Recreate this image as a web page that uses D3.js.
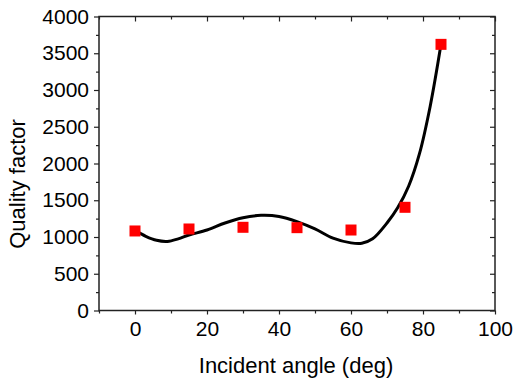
<!DOCTYPE html>
<html>
<head>
<meta charset="utf-8">
<script src="https://cdn.jsdelivr.net/npm/d3@7"></script>
<style>
  html, body { margin: 0; padding: 0; background: #fff; }
  svg { display: block; font-family: "Liberation Sans", Arial, sans-serif; }
</style>
</head>
<body>
<svg id="chart" width="515" height="385"></svg>
<script>
// Measured quality factor at each incident angle
const angles = [0, 15, 30, 45, 60, 75, 85];
const qualityFactor = [1082, 1109, 1132, 1127, 1095, 1404, 3621];

// Smooth guide curve through the measurements
const fitAngles = [0, 3, 6, 9, 12, 15, 20, 25, 30, 35, 40, 45, 50, 55, 60, 63, 66, 70, 73, 76, 79, 82, 85];
const fitValues = [1090, 1010, 955, 940, 975, 1027, 1095, 1190, 1262, 1295, 1280, 1210, 1110, 985, 920, 915, 975, 1190, 1400, 1690, 2130, 2780, 3621];

const xTicks = [0, 20, 40, 60, 80, 100];
const yTicks = [0, 500, 1000, 1500, 2000, 2500, 3000, 3500, 4000];
const xMinorTicks = [-10, 10, 30, 50, 70, 90];
const yMinorTicks = [250, 750, 1250, 1750, 2250, 2750, 3250, 3750];

const plotLeft = 99, plotRight = 495, plotTop = 16.5, plotBottom = 310.5;
const svg = d3.select("#chart");

const x = d3.scaleLinear().domain([-10, 100]).range([plotLeft, plotRight]);
const y = d3.scaleLinear().domain([0, 4000]).range([plotBottom, plotTop]);

const axisColor = "#222";
const tickFont = "21px";

function styleAxis(g) {
  g.select(".domain").remove();
  g.selectAll("line").attr("stroke", axisColor).attr("stroke-width", 1.2);
  g.selectAll("text").attr("fill", "#000").style("font-size", tickFont)
    .style("font-family", "'Liberation Sans', Arial, sans-serif");
}

// Bottom axis: major ticks with labels, minor ticks between
svg.append("g").attr("transform", `translate(0,${plotBottom})`)
  .call(d3.axisBottom(x).tickValues(xTicks).tickFormat(d3.format("d")).tickSize(4).tickPadding(7))
  .call(styleAxis);
svg.append("g").attr("transform", `translate(0,${plotBottom})`)
  .call(d3.axisBottom(x).tickValues(xMinorTicks).tickFormat("").tickSize(3))
  .call(styleAxis);

// Left axis
svg.append("g").attr("transform", `translate(${plotLeft},0)`)
  .call(d3.axisLeft(y).tickValues(yTicks).tickFormat(d3.format("d")).tickSize(5).tickPadding(5))
  .call(styleAxis);
svg.append("g").attr("transform", `translate(${plotLeft},0)`)
  .call(d3.axisLeft(y).tickValues(yMinorTicks).tickFormat("").tickSize(3))
  .call(styleAxis);

// Top and right axes mirror the ticks inward, without labels
svg.append("g").attr("transform", `translate(0,${plotTop})`)
  .call(d3.axisBottom(x).tickValues(xTicks).tickFormat("").tickSize(5))
  .call(styleAxis);
svg.append("g").attr("transform", `translate(0,${plotTop})`)
  .call(d3.axisBottom(x).tickValues(xMinorTicks).tickFormat("").tickSize(3))
  .call(styleAxis);
svg.append("g").attr("transform", `translate(${plotRight},0)`)
  .call(d3.axisLeft(y).tickValues(yTicks).tickFormat("").tickSize(5))
  .call(styleAxis);
svg.append("g").attr("transform", `translate(${plotRight},0)`)
  .call(d3.axisLeft(y).tickValues(yMinorTicks).tickFormat("").tickSize(3))
  .call(styleAxis);

// Frame
svg.append("rect")
  .attr("x", plotLeft).attr("y", plotTop)
  .attr("width", plotRight - plotLeft).attr("height", plotBottom - plotTop)
  .attr("fill", "none").attr("stroke", axisColor).attr("stroke-width", 1.5);

// Guide curve
const fitData = fitAngles.map((a, i) => [a, fitValues[i]]);
svg.append("path")
  .datum(fitData)
  .attr("fill", "none")
  .attr("stroke", "#000")
  .attr("stroke-width", 3)
  .attr("stroke-linecap", "round")
  .attr("d", d3.line().x(d => x(d[0])).y(d => y(d[1])).curve(d3.curveCatmullRom.alpha(0.5)));

// Measurement markers
const size = 11;
svg.append("g").selectAll("rect")
  .data(angles.map((a, i) => [a, qualityFactor[i]]))
  .join("rect")
  .attr("x", d => x(d[0]) - size / 2)
  .attr("y", d => y(d[1]) - size / 2)
  .attr("width", size).attr("height", size)
  .attr("fill", "#ff0000");

// Axis titles
svg.append("text")
  .attr("x", 296).attr("y", 373)
  .attr("text-anchor", "middle")
  .style("font-size", "22px")
  .text("Incident angle (deg)");

svg.append("text")
  .attr("transform", "translate(25,184) rotate(-90)")
  .attr("text-anchor", "middle")
  .style("font-size", "22px")
  .text("Quality factor");
</script>
</body>
</html>
